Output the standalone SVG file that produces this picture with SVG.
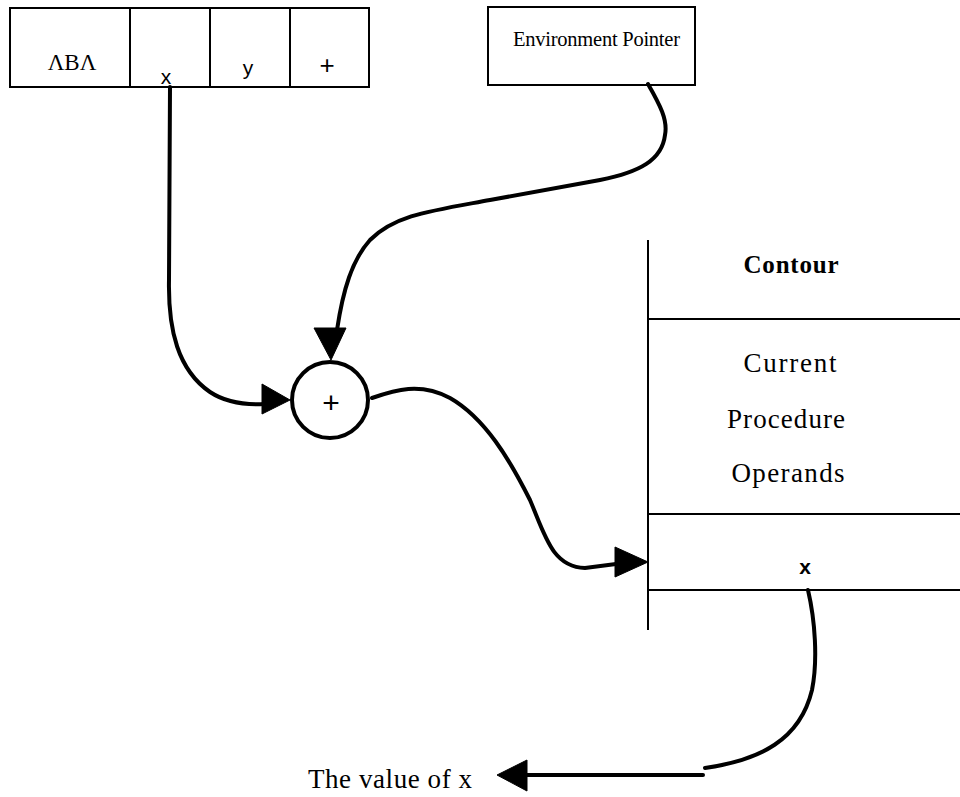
<svg xmlns="http://www.w3.org/2000/svg" width="960" height="797" viewBox="0 0 960 797">
<style>
.box{fill:#fff;stroke:#000;stroke-width:2}
.ln{fill:none;stroke:#000;stroke-width:2}
.conn{fill:none;stroke:#000;stroke-width:4;stroke-linecap:round}
.head{fill:#000;stroke:#000;stroke-width:1;stroke-linejoin:round}
.serif{font-family:"Liberation Serif","Times New Roman",serif;fill:#000}
.sans{font-family:"Liberation Sans",Arial,sans-serif;fill:#000}
</style>
<rect width="960" height="797" fill="#fff"/>
<g id="instruction">
<rect class="box" x="10" y="8" width="359" height="79"/>
<line class="ln" x1="130" y1="8" x2="130" y2="87"/>
<line class="ln" x1="210" y1="8" x2="210" y2="87"/>
<line class="ln" x1="290" y1="8" x2="290" y2="87"/>
<text class="serif" x="72" y="70" font-size="23" text-anchor="middle">ΛBΛ</text>
<text class="sans" x="166" y="84" font-size="21" text-anchor="middle">x</text>
<text class="sans" x="248" y="75" font-size="21" text-anchor="middle">y</text>
<text class="sans" x="327" y="74" font-size="26" text-anchor="middle">+</text>
</g>
<g id="env-pointer">
<rect class="box" x="488" y="7" width="207" height="78"/>
<text class="serif" x="513" y="46" font-size="20.5" textLength="167">Environment Pointer</text>
</g>
<g id="adder">
<circle cx="330" cy="400" r="38" fill="#fff" stroke="#000" stroke-width="4"/>
<text class="sans" x="331" y="413" font-size="30" font-weight="300" text-anchor="middle">+</text>
</g>
<g id="contour">
<line class="ln" x1="648" y1="240" x2="648" y2="630"/>
<line class="ln" x1="648" y1="319" x2="960" y2="319"/>
<line class="ln" x1="648" y1="514" x2="960" y2="514"/>
<line class="ln" x1="648" y1="590" x2="960" y2="590"/>
<text class="serif" x="791" y="273" font-size="25" font-weight="bold" text-anchor="middle" textLength="95">Contour</text>
<text class="serif" x="790" y="372" font-size="27" text-anchor="middle" textLength="93">Current</text>
<text class="serif" x="786" y="428" font-size="27" text-anchor="middle" textLength="118">Procedure</text>
<text class="serif" x="788" y="482" font-size="27" text-anchor="middle" textLength="113">Operands</text>
<text class="sans" x="805" y="574" font-size="21" font-weight="bold" text-anchor="middle">x</text>
</g>
<g id="result-label">
<text class="serif" x="308" y="788" font-size="27" textLength="164">The value of x</text>
</g>
<g id="connectors">
<path class="conn" d="M170,87 L169,280 C168,330 178,370 210,392 C225,402 245,405 264,404"/>
<polygon class="head" points="262,384 262,414 290,400"/>
<path class="conn" d="M648,84 C660,105 668,120 665,135 C662,160 640,172 600,180 L490,200 C430,211 395,215 370,240 C352,260 343,290 337,330"/>
<polygon class="head" points="314,328 346,328 331,360"/>
<path class="conn" d="M372,398 C395,390 420,382 450,398 C485,418 510,460 530,500 C545,535 552,567 585,568 L616,564"/>
<polygon class="head" points="615,547 615,577 648,562"/>
<path class="conn" d="M808,590 C815,620 818,660 812,690 C800,740 760,760 705,768"/>
<line class="conn" x1="703" y1="775" x2="525" y2="775" stroke-linecap="butt"/>
<polygon class="head" points="527,760 527,791 497,775"/>
</g>
</svg>
